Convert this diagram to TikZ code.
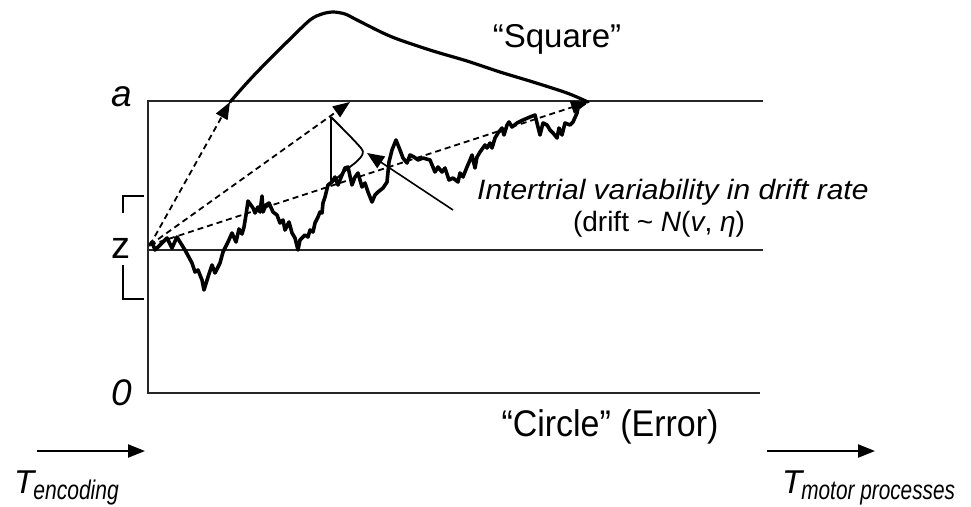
\documentclass[tikz,border=0pt]{standalone}
\usepackage{fontspec}
\setmainfont{Liberation Sans}
\usetikzlibrary{arrows.meta}
\tikzset{
  frame/.style={line width=1.8pt, black!85},
  walk/.style={line width=3.6pt, line join=round, line cap=round},
  dashline/.style={line width=1.8pt, dash pattern=on 6pt off 4pt, -{Triangle[length=17pt,width=13pt]}},
  rtcurve/.style={line width=3.2pt, line cap=round},
  thin/.style={line width=1.8pt},
  lbl/.style={inner sep=0pt, anchor=base},
  timearrow/.style={line width=2.2pt, -{Triangle[length=17pt,width=13pt]}}
}
\begin{document}
\begin{tikzpicture}[x=1pt,y=-1pt]
\useasboundingbox (0,0) rectangle (971,506);
% key coordinates
\coordinate (start) at (150,245);
\coordinate (tip1) at (230,102);
\coordinate (tip2) at (350,102);
\coordinate (tip3) at (588,102);
\coordinate (aL) at (148,101);  \coordinate (aR) at (763,101);
\coordinate (zL) at (148,250);  \coordinate (zR) at (763,250);
\coordinate (oL) at (148,393);  \coordinate (oR) at (760,393);
% boundaries
\draw[frame] (aR) -- (aL) -- (oL) -- (oR);
\draw[frame] (zL) -- (zR);
% z bracket
\draw[thin] (144,196) -- (122.7,196) -- (122.7,213);
\draw[thin] (122.7,265) -- (122.7,299) -- (144,299);
% labels
\node[lbl] (la) at (122,106) {\fontsize{37}{40}\selectfont\itshape a};
\node[lbl] (lz) at (121,258) {\fontsize{38}{40}\selectfont z};
\node[lbl] (l0) at (122,405) {\fontsize{37}{40}\selectfont\itshape 0};
% random walk
\draw[walk] plot coordinates {(150,245) (152,242) (155,250) (160,245) (167,238) (172,248) (177,237) (180,242) (185,250) (192,263) (195,272) (198,270) (202,280) (204,290) (208,277) (212,265) (215,273) (220,263) (223,252) (228,242) (232,233) (236,242) (239,229) (242,234) (244,227) (246,215) (248,201) (253,208) (255,213) (258,207) (260,212) (262,196) (263,212) (266,205) (269,203) (273,212) (277,215) (280,223) (283,220) (285,230) (289,222) (292,233) (295,238) (298,250) (300,240) (305,235) (308,237) (310,230) (313,232) (315,223) (318,217) (320,212) (322,213) (323,203) (325,197) (328,185) (332,182) (335,177) (338,185) (342,175) (345,168) (348,167) (352,185) (355,177) (358,173) (362,187) (365,183) (368,192) (372,202) (375,195) (378,192) (383,188) (387,182) (389,162) (392,150) (396,140) (400,150) (403,158) (407,163) (410,155) (414,157) (418,160) (423,158) (430,160) (435,172) (438,167) (442,172) (445,168) (449,180) (453,178) (458,182) (460,173) (463,177) (467,167) (470,160) (472,155) (475,168) (477,157) (480,152) (485,145) (487,148) (490,143) (492,148) (495,138) (498,133) (502,128) (504,135) (507,125) (509,122) (512,127) (517,123) (523,120) (530,117) (535,115) (538,127) (540,135) (543,123) (547,125) (550,130) (553,133) (557,138) (559,128) (562,135) (565,123) (570,125) (573,122) (577,113) (578,108) (582,105) (585,103)};
% dashed drift arrows
\draw[dashline] (start) -- (tip1);
\draw[dashline] (start) -- (tip2);
\draw[dashline] (start) -- (tip3);
% RT distribution
\draw[rtcurve] plot[smooth, tension=0.5] coordinates {(tip1) (245,85) (260,69) (287,42) (310,20) (322,14) (333,12) (345,14) (357,20) (383,33) (400,40) (433,51) (467,61) (500,72) (533,82) (567,93) (tip3)};
% drift distribution
\coordinate (dtop) at (331,117);
\coordinate (dbot) at (331,183);
\draw[thin] (dtop) -- (dbot);
\draw[thin, line join=round] (dtop) .. controls (345,131) and (354,140) .. (361,148) .. controls (365,152) and (363,156) .. (355,163) .. controls (347,169) and (339,176) .. (334,181);
% pointer
\coordinate (pfrom) at (453,210);
\coordinate (pto) at (367,153);
\draw[line width=1.6pt, -{Triangle[length=17pt,width=14pt]}] (pfrom) -- (pto);
% texts
\node[lbl, anchor=base west] (t1) at (477,199) {\fontsize{28}{32}\selectfont\scalebox{1.07}[1]{\itshape Intertrial variability in drift rate}};
\node[lbl] (t2) at (659,231) {\fontsize{28}{32}\selectfont (drift \~{} \textit{N}(\textit{v}, \textit{η})};
\node[lbl] (sq) at (557,47) {\fontsize{33}{36}\selectfont “Square”};
\node[lbl] (ci) at (610,436) {\fontsize{35}{38}\selectfont\scalebox{0.97}[1.06]{“Circle” (Error)}};
% time arrows
\coordinate (e1) at (37,451); \coordinate (e2) at (145,451);
\coordinate (m1) at (767,451); \coordinate (m2) at (875,451);
\draw[timearrow] (e1) -- (e2);
\draw[timearrow] (m1) -- (m2);
\node[lbl, anchor=base west] (tenc) at (14,493) {\fontsize{33}{36}\selectfont\itshape T\hspace{-1pt}\raisebox{-6pt}{\fontsize{27}{30}\selectfont\scalebox{0.78}[1]{encoding}}};
\node[lbl, anchor=base west] (tmot) at (782,493) {\fontsize{33}{36}\selectfont\itshape T\hspace{-1pt}\raisebox{-6pt}{\fontsize{27}{30}\selectfont\scalebox{0.77}[1]{motor processes}}};
\end{tikzpicture}
\end{document}
